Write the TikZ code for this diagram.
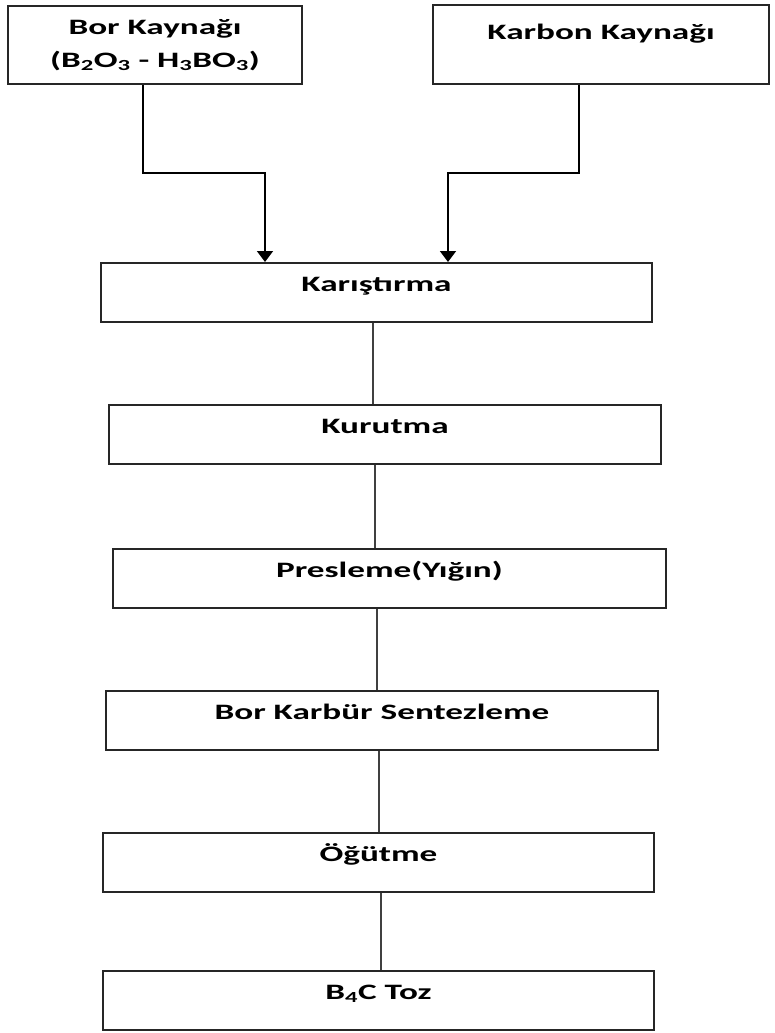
\documentclass[tikz,border=0pt]{standalone}
\usepackage{fontspec}
\newfontfamily\boxfont[FakeStretch=1.6]{Carlito}
\usetikzlibrary{arrows.meta}
\tikzset{
  stepbox/.style={draw=black!85,line width=1.6pt,fill=white,inner xsep=0pt,inner ysep=0pt,
    text height=29pt,text depth=30pt,anchor=north,align=center,
    font=\boxfont\bfseries\fontsize{22}{33}\selectfont},
  flow/.style={line width=1.8pt,black,-{Triangle[width=16pt,length=11pt]}},
  link/.style={line width=1.4pt,black!75}
}
\begin{document}
\begin{tikzpicture}[x=1pt,y=-1pt]
  \useasboundingbox (0,0) rectangle (774,1033);

  \node[stepbox,minimum width=294pt,text height={},text depth={},minimum height=78pt] (bor) at (155,5)
    {Bor Kaynağı\\(B\textsubscript{2}O\textsubscript{3} - H\textsubscript{3}BO\textsubscript{3})};
  \node[stepbox,minimum width=336pt,text height=35pt,text depth=44pt] (carb) at (601,4) {Karbon Kaynağı};

  \node[stepbox,minimum width=551pt] (mix) at (376.5,262) {Karıştırma};
  \node[stepbox,minimum width=552pt] (dry) at (385,404) {Kurutma};
  \node[stepbox,minimum width=553pt] (press) at (389.5,548) {Presleme(Yığın)};
  \node[stepbox,minimum width=552pt] (synth) at (382,690) {Bor Karbür Sentezleme};
  \node[stepbox,minimum width=551pt] (mill) at (378.5,832) {Öğütme};
  \node[stepbox,minimum width=551pt] (powder) at (378.5,970) {B\textsubscript{4}C Toz};

  % two sources into mixing
  \coordinate (borbend) at (143,173);
  \coordinate (mixinL) at (265,173);
  \coordinate (carbbend) at (579,173);
  \coordinate (mixinR) at (448,173);
  \draw[flow] (bor.south -| borbend) -- (borbend) -- (mixinL) -- (mix.north -| mixinL);
  \draw[flow] (carb.south -| carbbend) -- (carbbend) -- (mixinR) -- (mix.north -| mixinR);

  % process chain
  \foreach \a/\b/\x in {mix/dry/373,dry/press/375,press/synth/377,synth/mill/379,mill/powder/381}{
    \coordinate (lk) at (\x,0);
    \draw[link] (\a.south -| lk) -- (\b.north -| lk);
  }
\end{tikzpicture}
\end{document}
